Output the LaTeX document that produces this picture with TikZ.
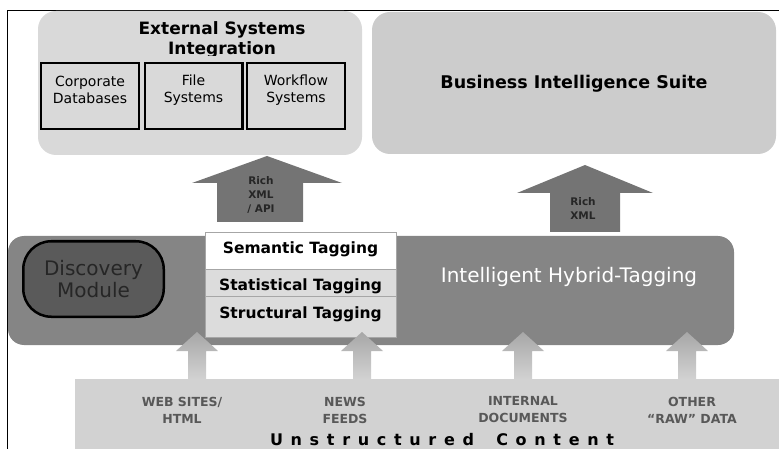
\documentclass[tikz,border=0pt]{standalone}
\usepackage{fontspec}
\setmainfont{DejaVu Sans}
\usepackage{xcolor}
\usetikzlibrary{positioning}

\definecolor{extgray}{HTML}{D9D9D9}
\definecolor{bigray}{HTML}{CCCCCC}
\definecolor{arrowdark}{HTML}{747474}
\definecolor{bandgray}{HTML}{858585}
\definecolor{discgray}{HTML}{5A5A5A}
\definecolor{tagfill}{HTML}{DCDCDC}
\definecolor{rawgray}{HTML}{D2D2D2}
\definecolor{labelgray}{HTML}{585858}

\newcommand{\fsz}[2]{\fontsize{#1}{#2}\selectfont}

\begin{document}
\begin{tikzpicture}[x=1pt, y=-1pt,
    every node/.style={inner sep=0pt, outer sep=0pt},
    subbox/.style={draw=black, line width=2.4pt, fill=extgray, minimum width=97.6pt, minimum height=65.6pt},
    subtext/.style={align=center, font=\fsz{14}{17}},
    tagbox/.style={draw=gray!70, line width=0.8pt, fill=tagfill, minimum width=191pt},
    tagtext/.style={anchor=base, font=\bfseries\fsz{15.5}{18}},
    richtext/.style={align=center, font=\bfseries\fsz{10.5}{14}, text=black!85},
    rawlabel/.style={align=center, font=\bfseries\fsz{12.5}{17}, text=labelgray}]
    \useasboundingbox (0,0) rectangle (779,449);

    % 1. Frame
    \draw[line width=1pt] (7,449) -- (7,11) -- (779,11);

    % 2. External Systems Integration
    \node[fill=extgray, rounded corners=18pt, minimum width=324pt, minimum height=144pt] (ext) at (200,83) {};
    \begin{scope}
        \clip (38,11) rectangle (362,56);
        \node[anchor=base, font=\bfseries\fsz{17}{20}] (exttitle) at (222,35) {External Systems};
        \node[anchor=base, font=\bfseries\fsz{17}{20}] (exttitleb) at (222,55) {Integration};
    \end{scope}
    \node[subbox] (corpdb) at (90,96) {};
    \node[subbox] (filesys) at (193.5,96) {};
    \node[subbox] (workflow) at (296,96) {};
    \node[subtext] at ([yshift=6pt]corpdb.center) {Corporate\\Databases};
    \node[subtext] at ([yshift=6pt]filesys.center) {File\\Systems};
    \node[subtext] at ([yshift=6pt]workflow.center) {Workflow\\Systems};

    % 3. Business Intelligence Suite
    \node[fill=bigray, rounded corners=18pt, minimum width=404pt, minimum height=142pt] (bis) at (574,83) {};
    \node[font=\bfseries\fsz{17.5}{20}] at ([yshift=-0.5pt]bis.center) {Business Intelligence Suite};

    % 4. Rich XML arrows
    \fill[arrowdark] (217,222) -- (217,183) -- (192,183) -- (267,156) -- (342,183) -- (303,183) -- (303,222) -- cycle;
    \node[richtext] (richapi) at (261,195) {Rich\\XML\\/ API};
    \fill[arrowdark] (550,232) -- (550,193) -- (517,193) -- (585,165) -- (653,193) -- (620,193) -- (620,232) -- cycle;
    \node[richtext] (richxml) at (583,209) {Rich\\XML};

    % 5. Intelligent Hybrid-Tagging
    \node[fill=bandgray, rounded corners=16pt, minimum width=726pt, minimum height=109pt] (band) at (371,290.5) {};
    \node[draw=black, line width=2.5pt, fill=discgray, rounded corners=28pt, minimum width=140.5pt, minimum height=75.5pt,
          align=center, font=\fsz{20}{22}, text=black!85] (disc) at (93.5,279) {Discovery\\Module};
    \node[tagbox, fill=white, minimum height=37pt] (semantic) at (300.5,250.5) {};
    \node[tagbox, minimum height=27pt] (statistical) at (300.5,282.5) {};
    \node[tagbox, minimum height=41pt] (structural) at (300.5,316.5) {};
    \node[tagtext] at (300.5,254) {Semantic Tagging};
    \node[tagtext] at (300.5,290) {Statistical Tagging};
    \node[tagtext] at (300.5,318) {Structural Tagging};
    \node[anchor=base, font=\fsz{20}{22}, text=white] (hybrid) at (569,282) {Intelligent Hybrid-Tagging};

    % 6. Unstructured Content
    \node[fill=rawgray, minimum width=704pt, minimum height=70pt] (raw) at (427,414) {};
    \foreach \cx in {197,362,523,687}
        \shade[top color=gray!85!black!60, bottom color=rawgray]
            (\cx-9,379) -- (\cx-9,351) -- (\cx-21,351) -- (\cx,332) -- (\cx+21,351) -- (\cx+9,351) -- (\cx+9,379) -- cycle;
    \node[rawlabel] (web) at (182,410) {WEB SITES/\\HTML};
    \node[rawlabel] (news) at (345,410) {NEWS\\FEEDS};
    \node[rawlabel] (internal) at (523,410) {INTERNAL\\DOCUMENTS};
    \node[rawlabel] (other) at (692,410) {OTHER\\``RAW'' DATA};
    \node[anchor=base west, font=\bfseries\fsz{16}{18}\addfontfeature{LetterSpace=48}] (unstruct) at (270,445)
        {Unstructured\hspace{9pt} Content};
\end{tikzpicture}
\end{document}
